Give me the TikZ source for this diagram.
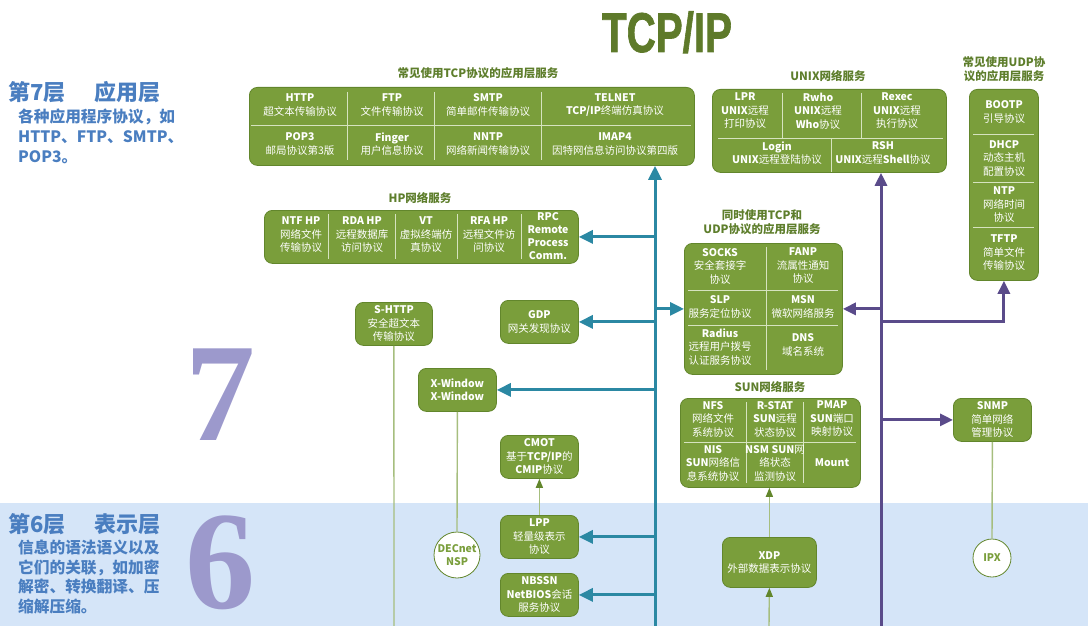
\documentclass[tikz,border=0pt]{standalone}
\usepackage{fontspec}
\setmainfont{Noto Sans CJK SC}
\newfontfamily\titlefont{Liberation Sans}[BoldFeatures={FakeBold=1.5}]
\newfontfamily\digitfont{Liberation Serif}
\usetikzlibrary{arrows.meta}
\definecolor{gfill}{HTML}{7A9E3B}
\definecolor{gborder}{HTML}{62862C}
\definecolor{capcol}{HTML}{5E7E2C}
\definecolor{titlecol}{HTML}{5E7A2A}
\definecolor{divcol}{HTML}{D6E3BF}
\definecolor{bandcol}{HTML}{D5E5F8}
\definecolor{leftblue}{HTML}{4A7EC0}
\definecolor{digitcol}{HTML}{9C99CC}
\definecolor{tealc}{HTML}{2B88A3}
\definecolor{purpc}{HTML}{5A4B8A}
\definecolor{thinc}{HTML}{A6BE7E}
\tikzset{
  gbox/.style={draw=gborder, fill=gfill, rounded corners=8pt, line width=0.8pt, anchor=north west, inner sep=0pt},
  cell/.style={text=white, align=center, inner sep=0pt, font=\fontsize{10.5}{13.5}\selectfont},
  boxcap/.style={text=capcol, align=center, inner sep=0pt, font=\fontsize{11.5}{14}\selectfont\bfseries},
  divl/.style={draw=divcol, line width=0.9pt},
  circ/.style={circle, draw=gborder, fill=white, line width=0.8pt, text=gfill, align=center, inner sep=0pt, font=\fontsize{10.5}{13.5}\selectfont\bfseries},
  tealline/.style={draw=tealc, line width=3pt, -{Triangle[length=14pt,width=13pt]}},
  purpline/.style={draw=purpc, line width=3pt, -{Triangle[length=13pt,width=12pt]}},
  thinline/.style={draw=thinc, line width=1.4pt},
  thinarrow/.style={draw=thinc, line width=1.4pt, -{Triangle[length=9pt,width=7pt,color=gborder]}},
  lhead/.style={text=leftblue, anchor=base west, inner sep=0pt, font=\fontsize{22}{24}\selectfont\bfseries},
  lbody/.style={text=leftblue, anchor=base west, inner sep=0pt, font=\fontsize{15.7}{20}\selectfont\bfseries},
  bigdigit/.style={text=digitcol, anchor=base, inner sep=0pt, text depth=0pt, text height=96pt, font=\digitfont\bfseries\fontsize{140}{140}\selectfont}
}
\begin{document}
\begin{tikzpicture}[x=1pt,y=-1pt]
\useasboundingbox (0,0) rectangle (1088,626);
% presentation layer band
\fill[bandcol] (0,503) rectangle (1088,626);

% title
\node[text=titlecol, anchor=base, inner sep=0pt, font=\titlefont\bfseries\fontsize{56}{56}\selectfont] (title) at (667,52) {\scalebox{0.72}[1]{TCP/IP}};

% left texts
\node[lhead] (h7) at (8,100) {第7层\hspace{29pt}应用层};
\node[lbody] (b7a) at (18,122.5) {各种应用程序协议，如};
\node[lbody] (b7b) at (18,142.5) {HTTP、FTP、SMTP、};
\node[lbody] (b7c) at (18,162.5) {POP3。};
\node[lhead] (h6) at (8,532) {第6层\hspace{29pt}表示层};
\node[lbody] (b6a) at (18,553.5) {信息的语法语义以及};
\node[lbody] (b6b) at (18,573) {它们的关联，如加密};
\node[lbody] (b6c) at (18,592.5) {解密、转换翻译、压};
\node[lbody] (b6d) at (18,612) {缩解压缩。};
\node[bigdigit] (d7) at (220,440) {7};
\node[bigdigit] (d6) at (220,608) {6};

% ---------- TCP box
\node[boxcap] (tcpcap) at (478,73) {常见使用TCP协议的应用层服务};
\node[gbox, minimum width=445pt, minimum height=78pt] (tcp) at (249,87) {};
\draw[divl] (251,125) -- (691,125);
\draw[divl] (347,92) -- (347,160);
\draw[divl] (434,92) -- (434,160);
\draw[divl] (541,92) -- (541,160);
\node[cell] (http) at (300,105) {\textbf{HTTP}\\超文本传输协议};
\node[cell] (ftp) at (392,105) {\textbf{FTP}\\文件传输协议};
\node[cell] (smtp) at (488,105) {\textbf{SMTP}\\简单邮件传输协议};
\node[cell] (telnet) at (615,105) {\textbf{TELNET}\\\textbf{TCP/IP}终端仿真协议};
\node[cell] (pop3) at (300,144) {\textbf{POP3}\\邮局协议第3版};
\node[cell] (finger) at (392,144) {\textbf{Finger}\\用户信息协议};
\node[cell] (nntp) at (488,144) {\textbf{NNTP}\\网络新闻传输协议};
\node[cell] (imap) at (615,144) {\textbf{IMAP4}\\因特网信息访问协议第四版};

% ---------- UNIX box
\node[boxcap] (unixcap) at (828,76) {UNIX网络服务};
\node[gbox, minimum width=234pt, minimum height=83pt] (unix) at (712,89) {};
\draw[divl] (782,93) -- (782,138);
\draw[divl] (861,93) -- (861,138);
\draw[divl] (718,138) -- (943,138);
\draw[divl] (831,138) -- (831,172);
\node[cell] (lpr) at (745,111) {\textbf{LPR}\\\textbf{UNIX}远程\\打印协议};
\node[cell] (rwho) at (818,111) {\textbf{Rwho}\\\textbf{UNIX}远程\\\textbf{Who}协议};
\node[cell] (rexec) at (897,111) {\textbf{Rexec}\\\textbf{UNIX}远程\\执行协议};
\node[cell] (login) at (777,153) {\textbf{Login}\\\textbf{UNIX}远程登陆协议};
\node[cell] (rsh) at (883,153) {\textbf{RSH}\\\textbf{UNIX}远程\textbf{Shell}协议};

% ---------- UDP box
\node[boxcap] (udpcap) at (1004,69) {常见使用UDP协\\议的应用层服务};
\node[gbox, minimum width=69pt, minimum height=191pt] (udp) at (969,89) {};
\draw[divl] (973,134) -- (1034,134);
\draw[divl] (973,182) -- (1034,182);
\draw[divl] (973,227) -- (1034,227);
\node[cell] (bootp) at (1004,112) {\textbf{BOOTP}\\引导协议};
\node[cell] (dhcp) at (1004,158) {\textbf{DHCP}\\动态主机\\配置协议};
\node[cell] (ntp) at (1004,205) {\textbf{NTP}\\网络时间\\协议};
\node[cell] (tftp) at (1004,253) {\textbf{TFTP}\\简单文件\\传输协议};

% ---------- HP box
\node[boxcap] (hpcap) at (420,198) {HP网络服务};
\node[gbox, minimum width=314pt, minimum height=53pt] (hp) at (264,210) {};
\draw[divl] (328,214) -- (328,259);
\draw[divl] (395,214) -- (395,259);
\draw[divl] (457,214) -- (457,259);
\draw[divl] (521,214) -- (521,259);
\node[cell] (ntf) at (301,235) {\textbf{NTF HP}\\网络文件\\传输协议};
\node[cell] (rda) at (362,235) {\textbf{RDA HP}\\远程数据库\\访问协议};
\node[cell] (vt) at (426,235) {\textbf{VT}\\虚拟终端仿\\真协议};
\node[cell] (rfa) at (489,235) {\textbf{RFA HP}\\远程文件访\\问协议};
\node[cell, font=\fontsize{10.5}{13}\selectfont\bfseries] (rpc) at (548,236) {RPC\\Remote\\Process\\Comm.};

% ---------- single boxes
\node[gbox, minimum width=77pt, minimum height=43pt] (shttp) at (355,302) {};
\node[cell] at (shttp.center) {\textbf{S-HTTP}\\安全超文本\\传输协议};
\node[gbox, minimum width=78pt, minimum height=43pt] (gdp) at (500,300) {};
\node[cell] at (gdp.center) {\textbf{GDP}\\网关发现协议};
\node[gbox, minimum width=78pt, minimum height=43pt] (xwin) at (418,368) {};
\node[cell, font=\fontsize{10.5}{13.5}\selectfont\bfseries] at (xwin.center) {X-Window\\X-Window};
\node[gbox, minimum width=78pt, minimum height=43pt] (cmot) at (500,435) {};
\node[cell] at (cmot.center) {\textbf{CMOT}\\基于\textbf{TCP/IP}的\\\textbf{CMIP}协议};
\node[gbox, minimum width=78pt, minimum height=43pt] (lpp) at (500,515) {};
\node[cell] at (lpp.center) {\textbf{LPP}\\轻量级表示\\协议};
\node[gbox, minimum width=78pt, minimum height=43pt] (nbssn) at (500,573) {};
\node[cell] at (nbssn.center) {\textbf{NBSSN}\\\textbf{NetBIOS}会话\\服务协议};
\node[gbox, minimum width=94pt, minimum height=50pt] (xdp) at (722,537) {};
\node[cell] at (xdp.center) {\textbf{XDP}\\外部数据表示协议};
\node[gbox, minimum width=78pt, minimum height=43pt] (snmp) at (953,398) {};
\node[cell] at (snmp.center) {\textbf{SNMP}\\简单网络\\管理协议};

% circles
\node[circ, minimum size=46pt] (decnet) at (457,555) {DECnet\\NSP};
\node[circ, minimum size=38pt] (ipx) at (992,558) {IPX};

% ---------- TCP+UDP box
\node[boxcap] (bothcap) at (762,222) {同时使用TCP和\\UDP协议的应用层服务};
\node[gbox, minimum width=158pt, minimum height=131pt] (both) at (684,243) {};
\draw[divl] (766,247) -- (766,370);
\draw[divl] (688,290) -- (838,290);
\draw[divl] (688,325) -- (838,325);
\node[cell] (socks) at (720,266) {\textbf{SOCKS}\\安全套接字\\协议};
\node[cell] (fanp) at (803,266) {\textbf{FANP}\\流属性通知\\协议};
\node[cell] (slp) at (720,307) {\textbf{SLP}\\服务定位协议};
\node[cell] (msn) at (803,307) {\textbf{MSN}\\微软网络服务};
\node[cell] (radius) at (720,347) {\textbf{Radius}\\远程用户拨号\\认证服务协议};
\node[cell] (dns) at (803,345) {\textbf{DNS}\\域名系统};

% ---------- SUN box
\node[boxcap] (suncap) at (770,387) {SUN网络服务};
\node[gbox, minimum width=180pt, minimum height=89pt] (sun) at (680,398) {};
\draw[divl] (746,402) -- (746,483);
\draw[divl] (803,402) -- (803,483);
\draw[divl] (684,442) -- (856,442);
\node[cell] (nfs) at (713,419) {\textbf{NFS}\\网络文件\\系统协议};
\node[cell] (rstat) at (775,419) {\textbf{R-STAT}\\\textbf{SUN}远程\\状态协议};
\node[cell] (pmap) at (832,419) {\textbf{PMAP}\\\textbf{SUN}端口\\映射协议};
\node[cell] (nis) at (713,463) {\textbf{NIS}\\\textbf{SUN}网络信\\息系统协议};
\node[cell] (nsm) at (775,463) {\textbf{NSM SUN}网\\络状态\\监测协议};
\node[cell] (mount) at (832,463) {\textbf{Mount}};

% ---------- thin green connectors
\coordinate (shttpend) at (394,626);
\coordinate (xdpin) at (769,626);
\draw[thinline] (shttp.south) -- (shttpend);
\draw[thinline] (xwin.south) -- (decnet.north);
\draw[thinarrow] (lpp.north) -- (cmot.south);
\draw[thinarrow] (xdp.north) -- (xdp.north |- sun.south);
\draw[thinarrow] (xdpin) -- (xdp.south);
\draw[thinline] (snmp.south) -- (ipx.north);

% ---------- teal (TCP) spine
\coordinate (tealbot) at (655,626);
\draw[tealline] (tealbot) -- (tealbot |- tcp.south);
\draw[tealline] (hp.east -| tealbot) -- (hp.east);
\draw[tealline] (both.west -| tealbot) -- (both.west);
\draw[tealline] (gdp.east -| tealbot) -- (gdp.east);
\draw[tealline] (xwin.east -| tealbot) -- (xwin.east);
\draw[tealline] (lpp.east -| tealbot) -- (lpp.east);
\draw[tealline] (nbssn.east -| tealbot) -- (nbssn.east);

% ---------- purple (UDP) spine
\coordinate (purpbot) at (881,626);
\coordinate (udpturn) at (881,321);
\draw[purpline] (purpbot) -- (purpbot |- unix.south);
\draw[purpline] (both.east -| purpbot) -- (both.east);
\draw[purpline] (udpturn) -- (udpturn -| udp.south) -- (udp.south);
\draw[purpline] (snmp.west -| purpbot) -- (snmp.west);
\end{tikzpicture}
\end{document}
